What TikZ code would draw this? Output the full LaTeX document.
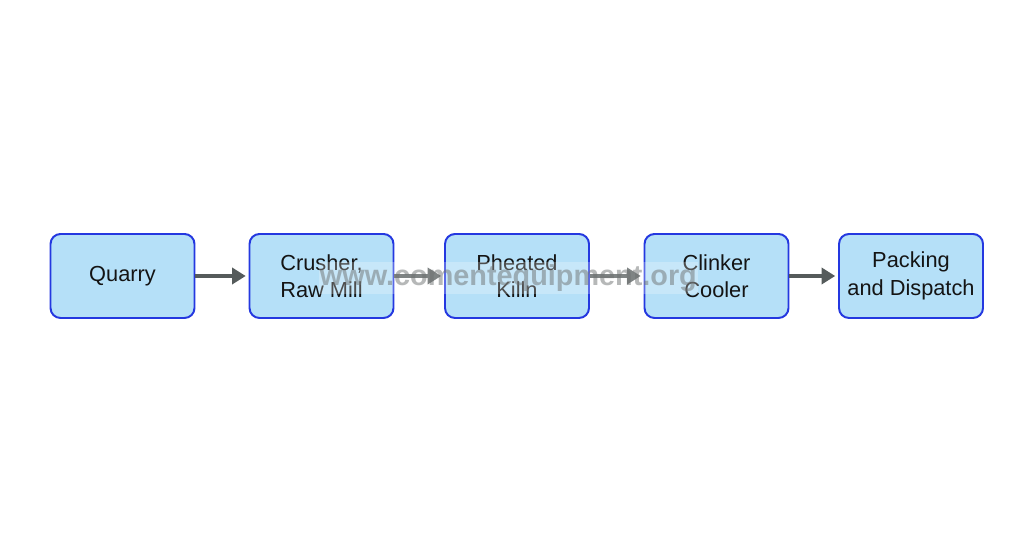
\documentclass[tikz,border=0pt]{standalone}
\usepackage{fontspec}
\setmainfont{Liberation Sans}
\usetikzlibrary{arrows.meta}
\definecolor{boxfill}{HTML}{B5E0F8}
\definecolor{boxline}{HTML}{2438E0}
\definecolor{arrowgray}{HTML}{555B5B}
\definecolor{textdark}{HTML}{141414}
\definecolor{markgray}{HTML}{6E7272}
\tikzset{
  stagebox/.style={draw=boxline, fill=boxfill, line width=1.4pt, rounded corners=0.25cm,
    minimum width=3.6cm, minimum height=2.1cm, align=center, text=textdark,
    font=\fontsize{15.5}{19.5}\selectfont},
  flowarrow/.style={-{Triangle[length=0.34cm,width=0.4cm]}, line width=2.6pt, arrowgray, shorten >=0.07cm}
}
\begin{document}
\begin{tikzpicture}
        % page frame
        \useasboundingbox (0,0) rectangle (25.6,13.825);
        \fill[white] (0,0) rectangle (25.6,13.825);
        % process stages
        \node[stagebox] (quarry) at (3.0625,6.925) {Quarry};
        \node[stagebox] (crusher) at (8.0375,6.925) {Crusher,\\Raw Mill};
        \node[stagebox] (kiln) at (12.925,6.925) {Pheated\\Killn};
        \node[stagebox] (cooler) at (17.9125,6.925) {Clinker\\Cooler};
        \node[stagebox] (packing) at (22.775,6.925) {Packing\\and Dispatch};
        % flow arrows
        \draw[flowarrow] (quarry) -- (crusher);
        \draw[flowarrow] (crusher) -- (kiln);
        \draw[flowarrow] (kiln) -- (cooler);
        \draw[flowarrow] (cooler) -- (packing);
        % watermark
        \node[fill=white, fill opacity=0.25, text opacity=0.5, text=markgray, inner xsep=1pt, inner ysep=2pt,
          font=\bfseries\fontsize{20.5}{24}\selectfont] (mark) at (12.71,6.875) {www.comentequipment.org};
    \end{tikzpicture}
\end{document}
